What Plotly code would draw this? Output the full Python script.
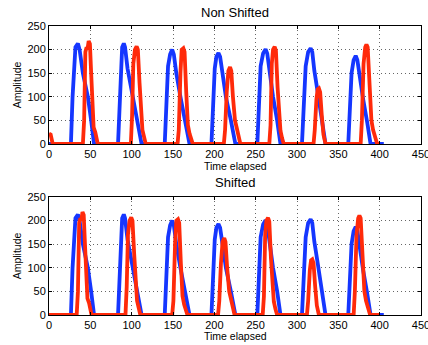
import plotly.graph_objects as go
from plotly.subplots import make_subplots

# Blue series (same in both panels)
blue_x = [0, 26.5, 28.5, 30.5, 32, 35, 37, 41, 47, 51, 54.5,
          83.5, 85.5, 87, 88.5, 90.5, 92, 95, 100, 106, 112,
          140, 142, 144, 146.5, 149, 151, 154, 159, 165, 170,
          196.5, 198.5, 200.5, 202.5, 205, 207, 210, 214, 220, 225.5,
          252, 254, 256, 259, 262, 264, 267, 271, 276, 280,
          306, 308, 310.5, 313.5, 316.5, 318.5, 321, 325, 330, 334.5,
          362, 364, 366, 368.5, 371, 373, 376, 380, 385, 389, 405]
blue_y = [0, 0, 100, 180, 205, 213, 200, 150, 100, 50, 0,
          0, 100, 180, 205, 213, 205, 160, 110, 55, 0,
          0, 90, 165, 190, 200, 190, 150, 100, 50, 0,
          0, 90, 160, 185, 193, 185, 145, 100, 50, 0,
          0, 90, 165, 192, 201, 192, 150, 100, 50, 0,
          0, 90, 165, 195, 203, 195, 155, 110, 55, 0,
          0, 85, 150, 178, 187, 178, 140, 95, 45, 0, 0]

# Red series, non shifted
red_x = [0, 2, 4.5,
         41, 42.5, 44, 45.5, 46.5, 48, 49.5, 51, 52.5, 54, 56, 59,
         99, 100.5, 102, 104, 106, 107.5, 109.5, 111.5, 113, 115, 117,
         155.5, 157, 159, 160.5, 162.5, 164, 166, 168, 170, 172, 174,
         211.5, 213, 215, 217, 219, 220.5, 222.5, 225, 227, 229.5, 231.5,
         266.5, 268, 269.5, 271, 273, 274.5, 276.5, 278.5, 280, 282, 284,
         320, 321.5, 323.5, 325, 326.5, 328, 330, 332, 334.5,
         377, 378.5, 380.5, 382.5, 384, 385.5, 387.5, 390, 392, 394.5, 397, 400]
red_y = [22, 20, 0,
         0, 50, 195, 205, 200, 218, 212, 150, 60, 35, 25, 0,
         0, 60, 170, 200, 207, 200, 130, 50, 30, 15, 0,
         0, 30, 150, 200, 203, 195, 110, 40, 22, 12, 0,
         0, 30, 110, 155, 163, 155, 100, 50, 35, 15, 0,
         0, 40, 170, 200, 206, 198, 120, 45, 28, 12, 0,
         0, 30, 95, 116, 118, 110, 60, 20, 0,
         0, 50, 170, 205, 211, 205, 130, 50, 30, 12, 0, 0]

# Red series, shifted
red_s_x = [0,
           33.5, 35, 36.5, 38, 39, 40.5, 42, 43.5, 45, 46.5, 48.5, 51.5,
           92.5, 94, 95.5, 97.5, 99.5, 101, 103, 105, 106.5, 108.5, 110.5,
           149, 150.5, 152.5, 154, 156, 157.5, 159.5, 161.5, 163.5, 165.5, 167.5,
           204.5, 206, 208, 210, 212, 213.5, 215.5, 218, 220, 222.5, 224.5,
           258.5, 260, 261.5, 263, 265, 266.5, 268.5, 270.5, 272, 274, 276,
           312, 313.5, 315.5, 317, 318.5, 320, 322, 324, 326.5,
           368.5, 370, 372, 374, 375.5, 377, 379, 381.5, 383.5, 386, 388.5, 400]
red_s_y = [0,
           0, 50, 195, 205, 200, 218, 212, 150, 60, 35, 25, 0,
           0, 60, 170, 200, 207, 200, 130, 50, 30, 15, 0,
           0, 30, 150, 200, 203, 195, 110, 40, 22, 12, 0,
           0, 30, 110, 155, 163, 155, 100, 50, 35, 15, 0,
           0, 40, 170, 200, 206, 198, 120, 45, 28, 12, 0,
           0, 30, 95, 116, 118, 110, 60, 20, 0,
           0, 50, 170, 205, 211, 205, 130, 50, 30, 12, 0, 0]

x_ticks = [0, 50, 100, 150, 200, 250, 300, 350, 400, 450]
y_ticks = [0, 50, 100, 150, 200, 250]

BLUE = "#1536ff"
RED = "#ff2a0a"
FONT = "Liberation Sans, Arial, Helvetica, sans-serif"

fig = make_subplots(rows=2, cols=1, vertical_spacing=0.0)

fig.add_trace(go.Scatter(x=blue_x, y=blue_y, mode="lines",
                         line=dict(color=BLUE, width=3.8)), row=1, col=1)
fig.add_trace(go.Scatter(x=red_x, y=red_y, mode="lines",
                         line=dict(color=RED, width=3.8)), row=1, col=1)
fig.add_trace(go.Scatter(x=blue_x, y=blue_y, mode="lines",
                         line=dict(color=BLUE, width=3.8)), row=2, col=1)
fig.add_trace(go.Scatter(x=red_s_x, y=red_s_y, mode="lines",
                         line=dict(color=RED, width=3.8)), row=2, col=1)

axis_common = dict(showline=True, linecolor="black", linewidth=1, mirror="ticks",
                   ticks="inside", ticklen=3, tickcolor="black",
                   showgrid=True, gridcolor="#666666", griddash="1px,3px", gridwidth=1,
                   zeroline=False, ticklabeloverflow="allow", automargin=False,
                   tickfont=dict(family=FONT, size=11, color="black"))

fig.update_xaxes(range=[0, 450], tickvals=x_ticks, **axis_common)
fig.update_yaxes(range=[0, 250], tickvals=y_ticks, **axis_common)

H = 289.0
top_dom = [1 - 118 / H, 1]
bot_dom = [0, 118 / H]
fig.update_layout(
    width=428, height=345,
    margin=dict(l=49, r=7, t=26, b=30),
    plot_bgcolor="white", paper_bgcolor="white",
    showlegend=False,
    yaxis=dict(domain=top_dom),
    yaxis2=dict(domain=bot_dom),
)

def ann(text, x, y, size, angle=0):
    fig.add_annotation(text=text, x=x, y=y, xref="paper", yref="paper",
                       showarrow=False, textangle=angle,
                       font=dict(family=FONT, size=size, color="black"),
                       xanchor="center", yanchor="middle")

ann("Non Shifted", 0.5, (315 - 12.3) / H, 13)
ann("Shifted", 0.5, (315 - 182.3) / H, 13)
ann("Time elapsed", 0.5, (315 - 165.7) / H, 10.5)
ann("Time elapsed", 0.5, (315 - 335.7) / H, 10.5)
ann("Amplitude", (17.3 - 49) / 372, (315 - 85) / H, 10.5, -90)
ann("Amplitude", (17.3 - 49) / 372, (315 - 256) / H, 10.5, -90)

fig.write_html("out.html")
